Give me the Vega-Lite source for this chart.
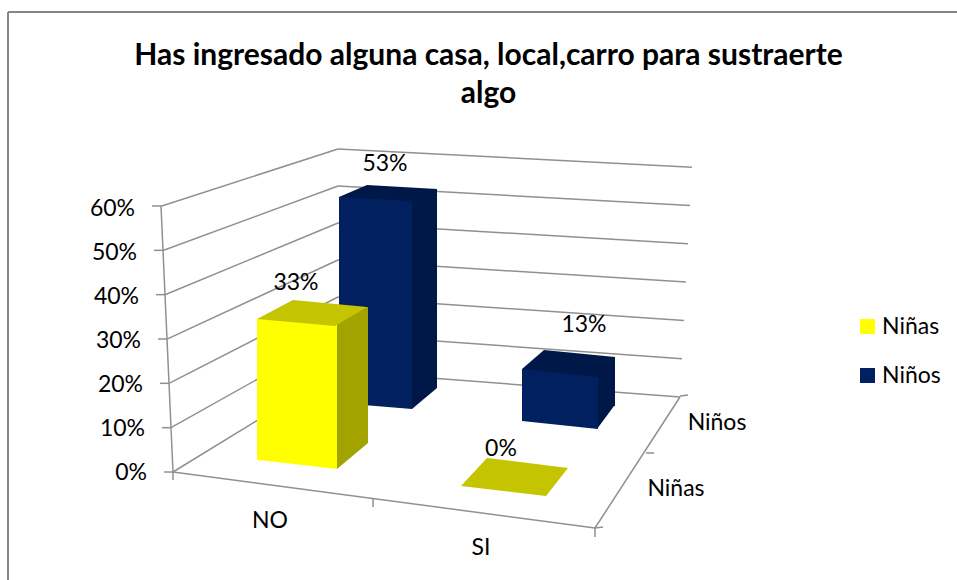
{
"$schema":"https://vega.github.io/schema/vega-lite/v6.json",
"width":957,"height":580,"padding":0,"autosize":{"type":"none"},
"background":"white",
"config":{"view":{"stroke":null},"font":"Lato","text":{"font":"Lato","fontSize":23,"color":"#000"},"axis":{"disable":true}},
"title":{"text":["Has ingresado alguna casa, local,carro para sustraerte","algo"],"font":"Lato","fontSize":30,"fontWeight":"bold","color":"#000","anchor":"middle","dx":10,"dy":109,"lineHeight":38,"offset":0},
"datasets":{
"bars":[
{"categoria":"NO","grupo":"Niñas","valor":0.33},
{"categoria":"NO","grupo":"Niños","valor":0.53},
{"categoria":"SI","grupo":"Niñas","valor":0},
{"categoria":"SI","grupo":"Niños","valor":0.13}],
"ticks":[{"pct":0},{"pct":0.1},{"pct":0.2},{"pct":0.3},{"pct":0.4},{"pct":0.5},{"pct":0.6}],
"uno":[{"marco":1}]
},
"resolve":{"scale":{"x":"independent","y":"independent"}},
"layer":[
{"data":{"name":"uno"},"mark":{"type":"rule","stroke":"#868686","strokeWidth":2},"encoding":{"x":{"value":8},"x2":{"value":957},"y":{"value":12},"y2":{"value":12}}},
{"data":{"name":"uno"},"mark":{"type":"rule","stroke":"#868686","strokeWidth":2},"encoding":{"x":{"value":8},"x2":{"value":8},"y":{"value":12},"y2":{"value":580}}},
{"data":{"name":"uno"},"mark":{"type":"rule","stroke":"#909090","strokeWidth":1.5},"encoding":{"x":{"value":173},"y":{"value":472},"x2":{"value":595},"y2":{"value":528}}},
{"data":{"name":"uno"},"mark":{"type":"rule","stroke":"#909090","strokeWidth":1.5},"encoding":{"x":{"value":595},"y":{"value":528},"x2":{"value":680},"y2":{"value":397}}},
{"data":{"name":"uno"},"mark":{"type":"rule","stroke":"#909090","strokeWidth":1.5},"encoding":{"x":{"value":173},"y":{"value":472},"x2":{"value":173},"y2":{"value":480}}},
{"data":{"name":"uno"},"mark":{"type":"rule","stroke":"#909090","strokeWidth":1.5},"encoding":{"x":{"value":373},"y":{"value":499},"x2":{"value":373},"y2":{"value":507}}},
{"data":{"name":"uno"},"mark":{"type":"rule","stroke":"#909090","strokeWidth":1.5},"encoding":{"x":{"value":595},"y":{"value":528},"x2":{"value":595},"y2":{"value":537}}},
{"data":{"name":"uno"},"mark":{"type":"rule","stroke":"#909090","strokeWidth":1.5},"encoding":{"x":{"value":595},"y":{"value":528},"x2":{"value":603},"y2":{"value":527}}},
{"data":{"name":"uno"},"mark":{"type":"rule","stroke":"#909090","strokeWidth":1.5},"encoding":{"x":{"value":646},"y":{"value":453},"x2":{"value":654},"y2":{"value":453}}},
{"data":{"name":"uno"},"mark":{"type":"rule","stroke":"#909090","strokeWidth":1.5},"encoding":{"x":{"value":680},"y":{"value":396},"x2":{"value":688},"y2":{"value":395}}},
{"data":{"name":"ticks"},
 "transform":[
  {"calculate":"173-20*datum.pct","as":"xf"},{"calculate":"472-443*datum.pct","as":"yf"},
  {"calculate":"338","as":"xb"},{"calculate":"371-370*datum.pct","as":"yb"},
  {"calculate":"680+20*datum.pct","as":"xr"},{"calculate":"397-383*datum.pct","as":"yr"}],
 "layer":[
  {"mark":{"type":"rule","stroke":"#909090","strokeWidth":1.5},"encoding":{"x":{"field":"xf","type":"quantitative","scale":null},"y":{"field":"yf","type":"quantitative","scale":null},"x2":{"field":"xb"},"y2":{"field":"yb"}}},
  {"mark":{"type":"rule","stroke":"#909090","strokeWidth":1.5},"encoding":{"x":{"field":"xb","type":"quantitative","scale":null},"y":{"field":"yb","type":"quantitative","scale":null},"x2":{"field":"xr"},"y2":{"field":"yr"}}}
 ]},
{"data":{"name":"ticks"},
 "encoding":{"y":{"field":"pct","type":"quantitative","scale":{"domain":[0,0.6],"range":[472,206],"nice":false,"zero":false}},"x":{"field":"pct","type":"quantitative","scale":{"domain":[0,0.6],"range":[173,161],"nice":false,"zero":false}}},
 "layer":[
  {"mark":{"type":"line","stroke":"#909090","strokeWidth":1.5}},
  {"mark":{"type":"rule","stroke":"#909090","strokeWidth":1.5,"x2Offset":-9},"encoding":{"x2":{"field":"pct"}}}
 ]},
{"data":{"name":"ticks"},
 "mark":{"type":"text","align":"right","baseline":"middle"},
 "encoding":{"y":{"field":"pct","type":"quantitative","scale":{"domain":[0,0.6],"range":[473,209],"nice":false,"zero":false}},"x":{"field":"pct","type":"quantitative","scale":{"domain":[0,0.6],"range":[147,135],"nice":false,"zero":false}},"text":{"field":"pct","format":".0%"}}},
{"data":{"name":"bars"},"transform":[{"filter":"datum.grupo==='Niñas'"}],
 "mark":{"type":"text","baseline":"middle","align":"center"},
 "encoding":{"x":{"field":"categoria","type":"nominal","scale":{"type":"point","padding":0,"domain":["NO","SI"],"range":[270,481]}},"y":{"field":"categoria","type":"nominal","scale":{"type":"point","padding":0,"domain":["NO","SI"],"range":[521,548]}},"text":{"field":"categoria"}}},
{"data":{"name":"bars"},"transform":[{"filter":"datum.categoria==='NO'"}],
 "mark":{"type":"text","baseline":"middle","align":"center"},
 "encoding":{"x":{"field":"grupo","type":"nominal","scale":{"type":"point","padding":0,"domain":["Niñas","Niños"],"range":[676,717]}},"y":{"field":"grupo","type":"nominal","scale":{"type":"point","padding":0,"domain":["Niñas","Niños"],"range":[489,423]}},"text":{"field":"grupo"}}},
{"data":{"name":"bars"},"transform":[{"filter":"datum.categoria==='NO' && datum.grupo==='Niños'"}],
 "encoding":{"x":{"field":"categoria","type":"nominal","scale":{"type":"band","domain":["NO"],"range":[339,412],"paddingInner":0,"paddingOuter":0}},"y":{"field":"valor","type":"quantitative","scale":{"domain":[0,0.6],"range":[403,169.8],"nice":false}}},
 "layer":[
  {"mark":{"type":"bar","color":"#001848","width":25,"xOffset":49,"yOffset":-8,"y2Offset":-15},"encoding":{"y2":{"datum":0}}},
  {"mark":{"type":"point","filled":true,"opacity":1,"color":"#001848","size":4,"shape":"M36.5,6 L61.5,-15 L36.5,-15 Z"},"encoding":{"y":{"datum":0,"type":"quantitative"}}},
  {"mark":{"type":"bar"},"encoding":{"color":{"field":"grupo","type":"nominal","scale":{"domain":["Niñas","Niños"],"range":["#ffff00","#002060"]},"legend":{"title":null,"orient":"none","legendX":856,"legendY":315,"symbolType":"square","symbolSize":225,"symbolStrokeWidth":0,"labelFont":"Lato","labelFontSize":23,"labelColor":"#000","labelOffset":3,"rowPadding":25}}}},
  {"mark":{"type":"point","filled":true,"opacity":1,"color":"#002060","size":4,"shape":"M-36.5,0 L36.5,6 L36.5,0 Z"},"encoding":{"y":{"datum":0,"type":"quantitative"}}},
  {"mark":{"type":"point","filled":true,"opacity":1,"color":"#001848","size":4,"shape":"M-36.5,0 L36.5,4 L61.5,-8 L-8.5,-12 Z"}},
  {"mark":{"type":"text","dx":9.5,"dy":-33},"encoding":{"text":{"field":"valor","format":".0%"}}}
 ]},
{"data":{"name":"bars"},"transform":[{"filter":"datum.categoria==='SI' && datum.grupo==='Niños'"}],
 "encoding":{"x":{"field":"categoria","type":"nominal","scale":{"type":"band","domain":["SI"],"range":[522,598],"paddingInner":0,"paddingOuter":0}},"y":{"field":"valor","type":"quantitative","scale":{"domain":[0,0.6],"range":[421,181],"nice":false}}},
 "layer":[
  {"mark":{"type":"bar","color":"#001848","width":17,"xOffset":46.5,"yOffset":-12,"y2Offset":-15},"encoding":{"y2":{"datum":0}}},
  {"mark":{"type":"point","filled":true,"opacity":1,"color":"#001848","size":4,"shape":"M37,8 L54,-15 L37,-15 Z"},"encoding":{"y":{"datum":0,"type":"quantitative"}}},
  {"mark":{"type":"bar"},"encoding":{"color":{"field":"grupo","type":"nominal","scale":{"domain":["Niñas","Niños"],"range":["#ffff00","#002060"]}}}},
  {"mark":{"type":"point","filled":true,"opacity":1,"color":"#002060","size":4,"shape":"M-38,0 L38,8 L38,0 Z"},"encoding":{"y":{"datum":0,"type":"quantitative"}}},
  {"mark":{"type":"point","filled":true,"opacity":1,"color":"#001848","size":4,"shape":"M-38,0 L38,8 L55,-12 L-16,-19 Z"}},
  {"mark":{"type":"text","dx":24,"dy":-44},"encoding":{"text":{"field":"valor","format":".0%"}}}
 ]},
{"data":{"name":"bars"},"transform":[{"filter":"datum.categoria==='NO' && datum.grupo==='Niñas'"}],
 "encoding":{"x":{"field":"categoria","type":"nominal","scale":{"type":"band","domain":["NO"],"range":[257,337],"paddingInner":0,"paddingOuter":0}},"y":{"field":"valor","type":"quantitative","scale":{"domain":[0,0.6],"range":[460,203.6],"nice":false}}},
 "layer":[
  {"mark":{"type":"bar","color":"#a3a300","width":32,"xOffset":55,"yOffset":-12,"y2Offset":-17},"encoding":{"y2":{"datum":0}}},
  {"mark":{"type":"point","filled":true,"opacity":1,"color":"#a3a300","size":4,"shape":"M40,9 L71,-17 L39,-17 Z"},"encoding":{"y":{"datum":0,"type":"quantitative"}}},
  {"mark":{"type":"bar"},"encoding":{"color":{"field":"grupo","type":"nominal","scale":{"domain":["Niñas","Niños"],"range":["#ffff00","#002060"]}}}},
  {"mark":{"type":"point","filled":true,"opacity":1,"color":"#ffff00","size":4,"shape":"M-38,0 L40,9 L40,0 Z"},"encoding":{"y":{"datum":0,"type":"quantitative"}}},
  {"mark":{"type":"point","filled":true,"opacity":1,"color":"#c4c400","size":4,"shape":"M-40,0 L38,7 L70,-12 L-4,-19 Z"}},
  {"mark":{"type":"text","dx":-1,"dy":-36},"encoding":{"text":{"field":"valor","format":".0%"}}}
 ]},
{"data":{"name":"bars"},"transform":[{"filter":"datum.categoria==='SI' && datum.grupo==='Niñas'"}],
 "encoding":{"x":{"field":"categoria","type":"nominal","scale":{"type":"band","domain":["SI"],"range":[461,546],"paddingInner":0,"paddingOuter":0}},"y":{"field":"valor","type":"quantitative","scale":{"domain":[0,0.6],"range":[486,230],"nice":false}}},
 "layer":[
  {"mark":{"type":"point","filled":true,"opacity":1,"color":"#c4c400","size":4,"shape":"M-42.5,0 L42.5,10 L64.5,-18 L-16.5,-28 Z"}},
  {"mark":{"type":"text","dx":-2.5,"dy":-37},"encoding":{"text":{"field":"valor","format":".0%"}}}
 ]}
]
}
